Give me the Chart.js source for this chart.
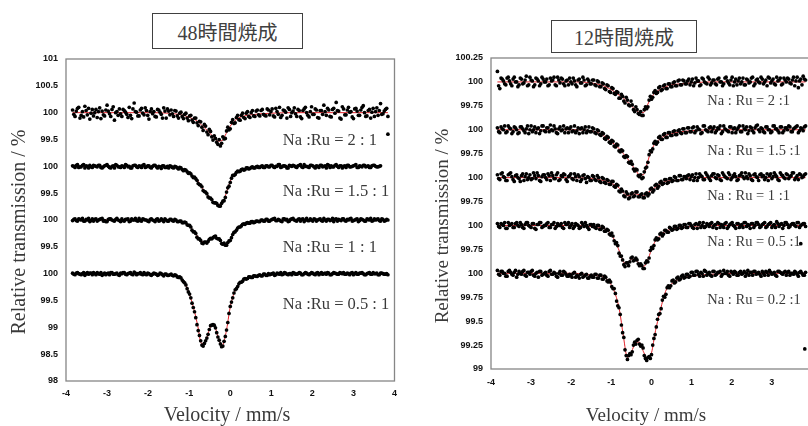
<!DOCTYPE html>
<html><head><meta charset="utf-8">
<script src="https://cdn.jsdelivr.net/npm/chart.js@4"></script>
<style>
html,body{margin:0;padding:0;background:#fff;overflow:hidden;width:808px;height:426px;}
#wrap{position:relative;width:808px;height:426px;overflow:hidden;background:#fff;}
.cv{position:absolute;top:0;}
.tbox{position:absolute;border:1px solid #404040;background:#fff;font-size:20px;font-family:"Liberation Serif","Noto Sans CJK JP",serif;color:#404040;display:flex;align-items:center;justify-content:center;box-sizing:border-box;}
</style></head>
<body><div id="wrap">
<div class="cv" style="left:0;width:404px;height:426px"><canvas id="c1" width="404" height="426"></canvas></div>
<div class="cv" style="left:404px;width:420px;height:426px"><canvas id="c2" width="420" height="426"></canvas></div>
<div class="tbox" id="t1" style="left:152px;top:13px;width:151px;height:36px"></div>
<div class="tbox" id="t2" style="left:551px;top:20px;width:146px;height:33px"></div>
</div>
<script>
// ---------- velocity channels (mm/s): even channels A, odd channels B ----------
const velocityA = [
-3.84,-3.78,-3.72,-3.66,-3.60,-3.54,-3.48,-3.42,-3.36,-3.30,
-3.24,-3.18,-3.12,-3.06,-3.00,-2.94,-2.88,-2.82,-2.76,-2.70,
-2.64,-2.58,-2.52,-2.46,-2.40,-2.34,-2.28,-2.22,-2.16,-2.10,
-2.04,-1.98,-1.92,-1.86,-1.80,-1.74,-1.68,-1.62,-1.56,-1.50,
-1.44,-1.38,-1.32,-1.26,-1.20,-1.14,-1.08,-1.02,-0.96,-0.90,
-0.84,-0.78,-0.72,-0.66,-0.60,-0.54,-0.48,-0.42,-0.36,-0.30,
-0.24,-0.18,-0.12,-0.06,0.00,0.06,0.12,0.18,0.24,0.30,
0.36,0.42,0.48,0.54,0.60,0.66,0.72,0.78,0.84,0.90,
0.96,1.02,1.08,1.14,1.20,1.26,1.32,1.38,1.44,1.50,
1.56,1.62,1.68,1.74,1.80,1.86,1.92,1.98,2.04,2.10,
2.16,2.22,2.28,2.34,2.40,2.46,2.52,2.58,2.64,2.70,
2.76,2.82,2.88,2.94,3.00,3.06,3.12,3.18,3.24,3.30,
3.36,3.42,3.48,3.54,3.60,3.66,3.72,3.78,3.84];
const velocityB = [
-3.81,-3.75,-3.69,-3.63,-3.57,-3.51,-3.45,-3.39,-3.33,-3.27,
-3.21,-3.15,-3.09,-3.03,-2.97,-2.91,-2.85,-2.79,-2.73,-2.67,
-2.61,-2.55,-2.49,-2.43,-2.37,-2.31,-2.25,-2.19,-2.13,-2.07,
-2.01,-1.95,-1.89,-1.83,-1.77,-1.71,-1.65,-1.59,-1.53,-1.47,
-1.41,-1.35,-1.29,-1.23,-1.17,-1.11,-1.05,-0.99,-0.93,-0.87,
-0.81,-0.75,-0.69,-0.63,-0.57,-0.51,-0.45,-0.39,-0.33,-0.27,
-0.21,-0.15,-0.09,-0.03,0.03,0.09,0.15,0.21,0.27,0.33,
0.39,0.45,0.51,0.57,0.63,0.69,0.75,0.81,0.87,0.93,
0.99,1.05,1.11,1.17,1.23,1.29,1.35,1.41,1.47,1.53,
1.59,1.65,1.71,1.77,1.83,1.89,1.95,2.01,2.07,2.13,
2.19,2.25,2.31,2.37,2.43,2.49,2.55,2.61,2.67,2.73,
2.79,2.85,2.91,2.97,3.03,3.09,3.15,3.21,3.27,3.33,
3.39,3.45,3.51,3.57,3.63,3.69,3.75,3.81];

const fitVelocity = [-3.84,-2.0,-1.5,-1.2,-1.05,-0.9,-0.8,-0.7,-0.6,-0.5,-0.4,-0.3,-0.2,-0.1,0.0,0.1,0.2,0.35,0.5,0.75,1.0,1.5,2.5,3.84];

// ---------- 48時間焼成 : relative transmission (%) ----------
const t48_ratio2A = [
100.05,99.93,100.08,99.90,100.02,100.12,99.96,99.88,100.06,100.00,
99.91,100.09,100.03,99.94,100.14,99.98,100.06,99.86,100.02,100.07,
99.93,100.04,99.97,100.10,99.89,100.18,100.01,99.94,100.08,99.96,
100.04,99.88,100.07,100.02,99.92,100.05,99.97,100.09,99.90,100.03,
100.05,99.93,100.03,99.90,100.01,99.89,99.99,99.85,99.95,99.82,
99.90,99.76,99.83,99.67,99.75,99.59,99.65,99.49,99.52,99.41,
99.38,99.55,99.52,99.73,99.70,99.87,99.81,99.95,99.86,99.99,
99.89,100.02,99.91,100.04,99.93,100.05,99.94,100.06,99.95,100.07,
99.96,100.07,99.92,100.02,100.10,99.95,100.04,99.90,100.06,100.00,
100.09,99.93,100.04,99.89,100.07,100.00,99.92,100.11,99.97,100.05,
99.90,100.04,100.14,99.95,100.05,99.92,100.08,100.19,100.03,99.88,
100.07,99.96,100.10,100.02,99.89,100.08,99.95,100.05,100.13,99.93,
100.04,99.90,100.08,100.02,99.95,100.17,99.98,100.06,99.93];
const t48_ratio2B = [
99.97,100.03,100.10,99.95,99.92,100.04,100.08,99.99,99.94,100.06,
100.02,99.89,99.96,100.05,100.03,99.93,100.11,100.00,99.95,99.98,
100.06,100.01,99.91,99.95,100.07,100.02,99.94,100.05,99.99,100.09,
99.95,100.02,99.98,99.93,100.06,100.01,99.90,100.03,100.07,99.96,
99.98,100.04,99.94,99.99,99.93,99.97,99.90,99.94,99.86,99.90,
99.81,99.84,99.73,99.78,99.64,99.69,99.55,99.57,99.45,99.50,
99.43,99.51,99.66,99.68,99.82,99.80,99.91,99.87,99.95,99.91,
99.99,99.93,100.00,99.94,100.03,99.96,100.04,99.97,99.94,100.05,
100.02,99.94,100.08,99.97,99.91,100.05,100.01,100.09,99.93,100.03,
99.98,100.06,99.92,100.04,100.10,99.95,100.02,99.97,100.07,99.91,
100.04,99.97,100.02,100.08,99.93,100.06,99.99,100.04,99.90,100.11,
99.96,100.05,100.01,99.92,100.07,100.03,99.95,100.10,100.00,99.94,
100.06,100.01,99.93,100.09,100.04,99.97,100.03,100.08];
const t48_ratio15A = [
100.01,99.98,100.03,99.99,100.02,99.97,100.00,100.02,99.98,100.01,
99.99,100.02,99.97,100.01,100.03,99.98,100.00,99.97,100.02,99.99,
100.01,99.98,100.02,100.00,99.97,100.02,99.99,100.01,99.98,100.03,
99.99,100.01,99.97,100.02,99.99,100.00,99.96,100.01,99.98,99.97,
100.00,99.97,99.99,99.95,99.97,99.92,99.93,99.87,99.86,99.79,
99.77,99.68,99.65,99.55,99.52,99.43,99.41,99.33,99.32,99.27,
99.26,99.35,99.42,99.60,99.70,99.83,99.85,99.91,99.91,99.95,
99.94,99.97,99.96,99.99,99.97,100.00,99.98,100.01,99.98,100.01,
99.99,100.02,99.98,100.00,100.03,99.99,100.01,99.97,100.02,100.00,
100.01,99.98,100.02,99.99,100.03,100.00,99.98,100.02,99.99,100.01,
99.98,100.02,100.00,99.97,100.02,100.01,99.99,100.03,99.98,100.01,
100.00,99.98,100.02,99.99,100.01,100.03,99.98,100.00,100.02,99.99,
100.01,99.98,100.02,100.00,99.99,100.01];
const t48_ratio15B = [
100.00,100.02,99.98,99.99,100.03,100.01,99.97,99.99,100.02,100.00,
100.02,99.98,99.99,100.02,100.00,99.97,100.01,100.03,99.99,99.98,
100.00,100.03,99.99,99.97,100.01,100.02,99.98,100.00,100.02,99.98,
100.01,99.98,100.00,100.02,99.97,99.99,100.01,99.98,100.00,100.01,
99.98,100.00,99.97,99.98,99.94,99.94,99.90,99.88,99.82,99.80,
99.74,99.66,99.62,99.53,99.49,99.41,99.38,99.32,99.31,99.26,
99.31,99.36,99.52,99.63,99.78,99.83,99.89,99.90,99.94,99.93,
99.97,99.95,99.98,99.97,99.99,99.98,100.00,99.98,100.01,99.99,
100.02,99.99,100.00,100.03,99.98,100.01,100.00,99.97,100.01,100.02,
99.99,100.01,100.03,99.98,100.00,99.99,100.02,100.01,99.97,100.00,
100.02,99.99,100.01,100.03,99.98,99.99,100.02,100.00,100.01,99.97,
100.01,100.02,99.99,100.00,100.02,99.98,100.01,99.99,100.02,100.00,
99.98,100.01,100.02,99.99,100.00];
const t48_ratio1A = [
99.99,100.02,99.98,100.01,100.03,99.98,100.00,99.97,100.02,100.01,
99.98,100.01,100.03,99.99,99.97,100.02,100.00,99.98,100.03,99.99,
100.02,99.98,100.01,99.97,100.02,100.00,99.99,100.03,99.98,100.01,
100.00,99.97,100.02,99.99,100.01,99.98,100.02,99.97,100.00,99.98,
100.01,99.98,100.00,99.97,99.98,99.95,99.95,99.90,99.87,99.78,
99.75,99.65,99.62,99.56,99.59,99.60,99.66,99.67,99.70,99.65,
99.62,99.55,99.53,99.58,99.62,99.73,99.78,99.85,99.87,99.92,
99.92,99.95,99.94,99.97,99.96,99.98,99.97,100.00,99.98,100.01,
99.98,100.01,100.03,99.99,100.00,99.97,100.02,100.01,99.98,100.02,
100.00,99.98,100.02,100.01,99.97,100.03,99.99,100.00,100.02,99.98,
100.01,99.99,100.03,99.98,100.01,100.00,99.97,100.02,100.01,99.99,
100.02,99.98,100.00,100.03,99.99,100.01,99.97,100.02,100.00,99.98,
100.01,100.03,99.99,100.00,100.02,99.98,100.01,99.99,100.00];
const t48_ratio1B = [
100.01,99.99,100.02,100.00,99.98,100.01,100.03,99.99,99.98,100.02,
100.00,100.02,99.98,99.97,100.01,100.02,99.99,100.01,100.00,99.97,
99.99,100.01,100.02,99.98,100.00,100.03,99.98,99.99,100.02,100.00,
99.98,100.01,100.00,99.97,100.02,99.99,100.00,100.02,99.98,100.01,
99.99,100.01,99.97,99.98,99.95,99.96,99.91,99.90,99.81,99.78,
99.68,99.65,99.57,99.59,99.57,99.64,99.65,99.69,99.66,99.65,
99.56,99.57,99.53,99.61,99.67,99.77,99.81,99.87,99.89,99.93,
99.94,99.94,99.97,99.95,99.98,99.97,100.00,99.98,100.01,99.98,
100.00,100.02,99.99,100.01,99.98,100.02,100.00,99.97,100.01,100.03,
99.99,100.01,99.98,100.02,100.00,99.99,100.02,99.98,100.01,100.00,
100.02,99.98,100.00,100.01,99.99,100.03,100.01,99.98,100.00,100.02,
99.99,100.01,100.02,99.98,100.00,100.02,99.99,100.01,99.98,100.02,
100.00,99.98,100.02,100.01,99.99,100.02,99.98,100.01];
const t48_ratio05A = [
100.01,99.98,100.02,99.99,100.00,99.97,100.02,100.01,99.98,100.00,
100.02,99.99,99.97,100.01,100.00,99.98,100.02,99.99,100.01,99.97,
100.00,100.02,99.98,100.01,99.99,100.03,99.98,100.00,99.99,100.02,
99.98,100.00,99.97,100.01,99.99,99.98,100.00,99.96,99.99,99.97,
99.99,99.96,99.97,99.93,99.92,99.85,99.79,99.66,99.55,99.37,
99.18,98.94,98.75,98.65,98.75,98.87,99.03,99.05,98.99,98.82,
98.69,98.65,98.83,99.09,99.39,99.55,99.70,99.76,99.84,99.86,
99.91,99.91,99.94,99.93,99.96,99.95,99.98,99.96,99.99,99.97,
99.98,100.00,99.97,100.01,99.99,99.98,100.02,99.99,100.00,99.98,
100.01,99.99,100.02,99.98,100.00,100.01,99.98,100.02,99.99,100.01,
99.98,100.02,100.00,99.99,100.01,99.98,100.02,100.00,99.99,100.01,
100.02,99.99,100.00,100.01,99.98,100.02,99.99,100.01,100.00,99.98,
100.01,99.99,100.02,100.00,99.98,100.01,100.00,99.99,99.98];
const t48_ratio05B = [
99.99,100.01,100.00,99.98,100.02,100.00,99.99,100.01,100.02,99.98,
100.00,100.02,99.99,99.98,100.01,100.02,99.99,100.00,99.98,100.01,
100.02,99.99,100.00,100.02,99.98,100.01,100.00,100.02,99.98,99.99,
100.01,99.98,99.99,100.00,99.97,100.01,99.98,99.99,99.97,99.98,
99.97,99.98,99.94,99.94,99.88,99.83,99.72,99.62,99.45,99.29,
99.05,98.85,98.67,98.70,98.80,98.96,99.04,99.04,98.90,98.76,
98.64,98.74,98.95,99.26,99.47,99.64,99.72,99.81,99.84,99.90,
99.90,99.94,99.93,99.96,99.95,99.97,99.96,99.99,99.97,100.00,
99.99,100.01,99.98,100.00,100.02,99.99,100.01,99.98,100.00,100.02,
99.99,100.00,100.01,99.98,100.02,99.99,100.00,100.01,99.98,100.02,
100.00,99.99,100.01,100.02,99.98,100.00,100.01,99.99,100.02,100.00,
99.99,100.01,99.98,100.02,100.00,99.99,100.01,100.02,99.98,100.00,
100.02,99.99,100.00,100.01,99.98,100.01,99.99,100.00];
const strayVelocity48 = [3.84];
const strayValue48 = [99.60];   // stray point beside "Na :Ru = 2 : 1"

const fit48_ratio2  = [100.00,100.00,99.99,99.96,99.93,99.88,99.84,99.77,99.70,99.62,99.54,99.47,99.48,99.61,99.75,99.84,99.90,99.94,99.96,99.98,99.99,100.00,100.00,100.00];
const fit48_ratio15 = [100.00,100.00,99.99,99.96,99.90,99.81,99.74,99.62,99.51,99.42,99.34,99.29,99.31,99.49,99.72,99.85,99.90,99.95,99.97,99.99,100.00,100.00,100.00];
const fit48_ratio1  = [100.00,100.00,100.00,99.97,99.93,99.80,99.70,99.61,99.58,99.64,99.68,99.66,99.57,99.55,99.64,99.77,99.86,99.93,99.96,99.98,99.99,100.00,100.00,100.00];
const fit48_ratio05 = [100.00,100.00,99.98,99.91,99.73,99.38,99.06,98.70,98.74,98.98,99.05,98.83,98.66,98.91,99.38,99.65,99.79,99.89,99.93,99.97,99.98,99.99,100.00,100.00];

// ---------- 12時間焼成 : relative transmission (%) ----------
const t12_ratio2A = [
100.11,99.93,100.03,99.98,100.04,100.01,99.96,100.05,100.00,99.97,
100.03,99.99,100.06,99.97,100.02,99.95,100.04,100.01,99.98,100.03,
100.00,99.96,100.04,100.02,99.97,100.05,99.99,100.03,99.96,100.02,
100.04,99.98,100.01,99.95,100.03,99.99,100.02,99.97,100.01,99.98,
100.02,99.96,100.00,99.95,99.98,99.92,99.96,99.89,99.93,99.87,
99.89,99.83,99.85,99.78,99.81,99.75,99.76,99.69,99.71,99.66,
99.65,99.71,99.72,99.81,99.82,99.89,99.88,99.94,99.91,99.96,
99.93,99.98,99.95,99.99,99.96,100.01,99.97,100.02,99.98,100.01,
99.97,100.03,99.99,100.01,99.96,100.04,100.00,99.98,100.03,99.99,
100.02,99.97,100.04,100.00,99.98,100.05,99.99,100.02,99.96,100.03,
100.01,99.98,100.04,99.97,100.02,100.00,100.05,99.98,100.03,99.99,
100.03,100.00,99.96,100.04,100.01,99.98,100.05,100.02,99.97,100.04,
100.00,100.03,99.98,100.05,100.01,99.94,100.03,100.06,100.02];
const t12_ratio2B = [
99.96,100.04,100.01,99.97,100.05,99.98,100.03,100.00,99.95,100.04,
99.98,100.02,99.96,100.05,100.01,99.97,100.03,99.96,100.05,100.00,
100.03,99.97,100.01,100.05,99.96,100.02,100.04,99.98,100.01,99.97,
100.00,100.04,99.97,100.02,99.99,100.05,99.96,100.03,99.98,100.02,
99.97,100.01,99.95,99.99,99.93,99.97,99.90,99.94,99.88,99.90,
99.83,99.87,99.80,99.84,99.76,99.80,99.71,99.74,99.67,99.69,
99.65,99.74,99.74,99.85,99.84,99.91,99.89,99.95,99.92,99.97,
99.93,99.98,99.95,100.00,99.96,100.02,99.97,100.01,99.98,100.03,
100.00,99.96,100.04,100.01,99.97,100.03,99.99,100.05,99.97,100.02,
99.98,100.03,100.00,99.96,100.04,100.01,99.97,100.05,100.00,99.97,
100.04,100.00,99.97,100.03,99.99,100.04,99.96,100.02,100.00,100.05,
99.98,100.02,100.05,99.99,100.03,99.97,100.01,100.04,99.98,100.02,
100.04,99.99,100.02,99.96,100.05,100.01,99.97,100.03];
const t12_ratio15A = [
100.02,99.97,100.01,100.04,99.98,100.02,99.96,100.03,100.00,99.97,
100.03,99.99,100.01,99.96,100.04,100.00,99.97,100.02,99.99,100.04,
99.98,100.02,100.05,99.99,100.01,99.96,100.03,100.00,99.97,100.02,
100.01,99.98,100.04,99.99,99.96,100.02,100.00,99.97,100.03,99.98,
100.01,99.96,99.99,99.94,99.96,99.90,99.92,99.86,99.88,99.82,
99.84,99.77,99.78,99.71,99.72,99.65,99.64,99.57,99.58,99.51,
99.49,99.56,99.61,99.74,99.77,99.86,99.85,99.92,99.90,99.95,
99.92,99.97,99.94,99.98,99.95,99.99,99.97,100.01,99.97,100.02,
99.98,100.02,99.97,100.03,100.00,99.97,100.04,99.99,100.02,99.98,
100.03,99.99,100.01,99.96,100.04,100.00,99.98,100.03,100.01,99.97,
100.02,99.98,100.04,100.00,99.96,100.03,99.99,100.02,100.05,99.98,
100.01,99.97,100.03,100.00,99.98,100.04,100.01,99.97,100.03,99.99,
100.02,100.04,99.98,100.01,100.03,99.97,100.02,99.99,100.04];
const t12_ratio15B = [
99.98,100.03,100.00,99.97,100.04,100.01,99.98,100.02,99.96,100.03,
100.01,99.97,100.04,100.00,99.98,100.03,100.01,99.96,100.04,99.99,
100.02,99.98,100.00,100.04,99.97,100.01,99.99,100.04,100.01,99.97,
100.03,99.99,99.97,100.02,100.01,99.97,100.03,99.99,99.98,100.02,
99.97,100.00,99.95,99.97,99.91,99.93,99.87,99.89,99.83,99.85,
99.78,99.79,99.72,99.73,99.66,99.67,99.59,99.59,99.52,99.53,
99.50,99.60,99.66,99.78,99.80,99.88,99.87,99.93,99.90,99.96,
99.92,99.97,99.94,99.99,99.95,100.00,99.96,100.01,99.97,100.02,
99.98,100.03,99.99,100.01,99.96,100.04,100.00,99.98,100.03,100.01,
99.97,100.02,100.04,99.98,100.01,99.99,100.03,99.97,100.02,100.00,
100.04,99.98,100.01,100.03,99.99,100.02,99.97,100.04,100.00,100.02,
99.98,100.03,100.00,99.97,100.04,100.01,99.99,100.03,99.97,100.02,
100.00,100.03,99.98,100.02,100.04,99.99,100.01,100.03];
const t12_ratio1A = [
100.03,99.98,100.05,100.00,99.97,100.04,100.01,99.96,100.03,99.99,
100.02,99.97,100.04,100.00,99.98,100.05,99.99,100.02,99.96,100.03,
100.00,100.04,99.97,100.02,99.99,100.05,99.98,100.01,100.03,99.96,
100.02,99.99,100.04,99.97,100.01,99.98,100.03,99.95,100.00,99.97,
100.01,99.97,100.00,99.95,99.99,99.94,99.97,99.93,99.96,99.90,
99.92,99.85,99.86,99.80,99.83,99.79,99.84,99.81,99.85,99.80,
99.83,99.79,99.84,99.83,99.89,99.87,99.93,99.91,99.96,99.94,
99.98,99.95,99.99,99.97,100.00,99.97,100.02,99.98,100.01,100.02,
99.98,100.03,100.00,99.97,100.04,100.01,99.98,100.03,99.99,100.02,
100.04,99.99,100.02,99.97,100.03,100.00,100.05,99.98,100.02,100.01,
99.98,100.03,100.01,100.05,99.99,100.02,99.97,100.04,100.00,100.03,
100.01,99.98,100.04,100.02,99.99,100.05,100.01,99.97,100.03,100.00,
100.04,99.99,100.02,100.05,100.00,99.98,100.03,100.01,100.04];
const t12_ratio1B = [
99.99,100.04,100.01,99.97,100.03,100.05,99.98,100.02,100.00,99.96,
100.04,100.01,99.98,100.03,99.99,100.02,100.05,99.97,100.01,100.03,
99.98,100.02,100.05,99.99,100.03,99.97,100.02,100.04,99.98,100.01,
100.04,99.98,100.01,100.03,99.96,100.02,99.99,100.01,99.97,100.02,
99.98,100.02,99.96,100.00,99.95,99.98,99.93,99.96,99.91,99.93,
99.86,99.88,99.81,99.85,99.78,99.83,99.80,99.85,99.80,99.82,
99.79,99.83,99.81,99.88,99.85,99.92,99.89,99.95,99.93,99.98,
99.94,99.99,99.96,100.01,99.97,100.02,99.98,100.01,99.99,100.03,
100.01,99.97,100.04,100.00,100.02,99.98,100.05,100.01,99.97,100.04,
100.00,100.03,99.98,100.05,100.01,99.99,100.03,100.00,100.04,99.97,
100.02,100.05,99.99,100.01,100.04,99.98,100.03,100.01,99.97,100.04,
100.02,100.00,99.97,100.04,100.01,100.03,99.98,100.05,100.02,99.99,
100.03,100.01,100.05,99.98,100.02,100.04,100.00,100.03];
const t12_ratio05A = [
100.02,99.98,100.01,100.03,99.97,100.00,100.02,99.98,100.03,99.99,
100.01,99.97,100.03,100.00,99.98,100.02,99.96,100.01,100.03,99.99,
100.00,100.03,99.98,100.01,99.97,100.02,100.00,99.98,100.03,100.01,
99.98,100.02,99.99,100.01,99.97,100.03,99.99,100.00,99.96,100.01,
100.01,99.97,100.00,99.96,99.98,99.94,99.95,99.90,99.89,99.81,
99.79,99.68,99.64,99.57,99.61,99.62,99.67,99.64,99.64,99.58,
99.58,99.55,99.63,99.66,99.77,99.79,99.87,99.86,99.92,99.91,
99.95,99.93,99.97,99.96,99.99,99.97,100.00,99.98,100.01,99.98,
100.02,99.98,100.01,99.97,100.03,100.00,99.98,100.02,99.99,100.03,
100.00,99.97,100.02,100.01,99.98,100.03,99.99,100.02,100.00,99.97,
100.02,100.00,99.98,100.03,100.01,99.97,100.02,100.00,100.03,99.98,
100.01,100.03,99.99,100.02,99.98,100.01,100.04,99.99,100.02,100.00,
100.03,99.98,100.01,100.02,99.99,100.03,100.00,100.02,99.99];
const t12_ratio05B = [
99.99,100.02,100.00,99.97,100.03,100.01,99.98,100.02,100.00,100.03,
99.98,100.01,100.03,99.99,100.02,99.97,100.01,100.03,99.98,100.00,
100.02,99.98,100.01,100.03,99.99,100.00,100.02,99.97,100.01,100.03,
100.00,99.97,100.02,100.00,99.98,100.01,100.03,99.98,100.01,99.99,
99.98,100.00,99.96,99.99,99.94,99.96,99.91,99.92,99.84,99.82,
99.71,99.68,99.59,99.61,99.58,99.66,99.63,99.66,99.60,99.60,
99.55,99.61,99.62,99.74,99.76,99.85,99.85,99.91,99.89,99.95,
99.93,99.98,99.95,99.99,99.96,100.00,99.97,100.01,99.98,100.02,
100.00,99.97,100.02,100.01,99.98,100.03,99.99,100.01,100.02,99.98,
100.01,100.03,99.98,100.00,100.02,99.97,100.01,100.03,99.99,100.02,
99.98,100.01,100.03,99.99,100.00,100.02,99.98,100.03,100.01,99.99,
100.02,99.98,100.01,100.03,100.00,99.98,100.02,100.01,99.97,100.03,
100.01,99.99,100.02,100.00,100.03,99.98,100.01,100.02];
const t12_ratio02A = [
100.03,99.98,100.02,100.00,99.97,100.03,99.99,100.01,99.96,100.02,
99.99,100.03,99.97,100.01,100.02,99.98,100.00,99.96,100.02,99.99,
100.01,99.97,100.03,99.99,100.00,99.96,100.02,99.98,100.01,99.97,
99.99,99.96,100.01,99.98,99.95,100.00,99.97,99.99,99.95,99.98,
99.96,99.99,99.95,99.98,99.94,99.96,99.91,99.91,99.84,99.79,
99.66,99.57,99.38,99.20,99.10,99.16,99.18,99.28,99.30,99.26,
99.25,99.14,99.09,99.13,99.15,99.32,99.44,99.57,99.63,99.76,
99.78,99.87,99.87,99.93,99.91,99.96,99.94,99.98,99.96,99.99,
99.97,100.01,99.98,100.02,99.97,100.00,100.03,99.98,100.01,99.97,
100.02,99.99,100.01,99.97,100.03,100.00,99.98,100.02,99.99,100.01,
99.98,100.02,100.00,99.97,100.03,100.01,99.98,100.02,100.00,99.99,
100.02,99.98,100.01,100.03,99.99,100.01,99.97,100.02,100.00,100.01,
99.98,100.02,100.00,99.99,100.01,99.97,100.02,99.98,100.01];
const t12_ratio02B = [
99.99,100.02,100.00,99.97,100.02,100.01,99.98,100.03,99.99,100.00,
100.02,99.98,100.01,99.99,100.03,99.97,100.01,100.02,99.98,100.00,
99.98,100.02,99.99,100.01,99.97,100.00,99.98,100.02,99.99,99.97,
99.98,100.00,99.96,99.97,99.99,99.96,99.98,99.95,99.97,99.96,
99.99,99.95,99.98,99.94,99.97,99.92,99.93,99.86,99.84,99.71,
99.64,99.46,99.33,99.14,99.14,99.15,99.25,99.26,99.31,99.24,
99.22,99.11,99.12,99.11,99.25,99.36,99.52,99.58,99.72,99.75,
99.85,99.85,99.92,99.90,99.95,99.93,99.97,99.95,99.99,99.96,
100.01,99.98,100.02,99.99,100.01,99.97,100.02,100.00,99.98,100.02,
99.98,100.01,100.02,99.99,100.00,100.02,99.97,100.01,100.02,99.98,
100.01,99.99,100.02,100.00,99.98,100.01,100.02,99.99,100.01,99.97,
100.00,100.02,99.98,100.01,100.00,99.98,100.02,100.01,99.99,100.02,
100.01,99.98,100.00,100.02,99.99,100.01,100.00,99.98];
const strayVelocity12_05 = [3.72];
const strayValue12_05 = [99.81];
const strayVelocity12_02 = [3.82];
const strayValue12_02 = [99.21];

const fit12_ratio2  = [100.00,100.00,99.99,99.96,99.93,99.89,99.86,99.83,99.79,99.75,99.71,99.68,99.68,99.76,99.84,99.89,99.92,99.95,99.97,99.98,99.99,100.00,100.00,100.00];
const fit12_ratio15 = [100.00,100.00,99.99,99.94,99.89,99.84,99.80,99.75,99.70,99.64,99.58,99.53,99.53,99.66,99.79,99.86,99.90,99.94,99.96,99.98,99.99,100.00,100.00,100.00];
const fit12_ratio1  = [100.00,100.00,99.99,99.97,99.95,99.92,99.89,99.84,99.81,99.82,99.83,99.82,99.81,99.84,99.87,99.90,99.93,99.96,99.97,99.98,100.00,100.00,100.00,100.00];
const fit12_ratio05 = [100.00,100.00,99.99,99.97,99.93,99.83,99.73,99.62,99.60,99.65,99.64,99.60,99.57,99.63,99.75,99.84,99.89,99.94,99.96,99.98,99.99,100.00,100.00,100.00];
const fit12_ratio02 = [100.00,100.00,99.98,99.96,99.91,99.78,99.62,99.34,99.12,99.18,99.27,99.28,99.18,99.11,99.17,99.40,99.58,99.81,99.89,99.95,99.97,99.99,100.00,100.00];

// ---------- tick labels & texts ----------
const xTickLabels = ['-4','-3','-2','-1','0','1','2','3','4'];
const yTickLabels48 = ['98','98.5','99','99.5','100','99.5','100','99.5','100','99.5','100','100.5','101'];
const yTickLabels12 = ['99','99.25','99.5','99.75','100','99.75','100','99.75','100','99.75','100','99.75','100','100.25'];
const panelTitle48 = '48時間焼成';
const panelTitle12 = '12時間焼成';
const labels48 = ['Na :Ru = 2 : 1','Na :Ru = 1.5 : 1','Na :Ru = 1 : 1','Na :Ru = 0.5 : 1'];
const labels12 = ['Na : Ru = 2 :1','Na : Ru = 1.5 :1','Na : Ru = 1 :1','Na : Ru = 0.5 :1','Na : Ru = 0.2 :1'];
const yAxisTitle = 'Relative transmission / %';
const xAxisTitle = 'Velocity / mm/s';

document.getElementById('t1').textContent = panelTitle48;
document.getElementById('t2').textContent = panelTitle12;

// ---------- helpers ----------
function toPoints(xs, ys, shift) {
  const out = [];
  for (let i = 0; i < ys.length; i++) out.push({x: xs[i], y: ys[i] + shift});
  return out;
}
function dotSet(valsA, valsB, shift, r, sv, st) {
  let d = toPoints(velocityA, valsA, shift).concat(toPoints(velocityB, valsB, shift));
  if (sv) d = d.concat(toPoints(sv, st, shift));
  return {type:'scatter', data:d, showLine:false, pointRadius:r, pointHoverRadius:r,
          pointBackgroundColor:'#000', pointBorderWidth:0, order:1};
}
function fitSet(vals, shift) {
  return {type:'scatter', data:toPoints(fitVelocity, vals, shift), showLine:true, pointRadius:0,
          borderColor:'#e3242b', borderWidth:1, cubicInterpolationMode:'monotone', fill:false, order:2};
}

const decor = {
  id: 'decor',
  beforeDatasetsDraw(chart) {
    const ctx = chart.ctx, a = chart.chartArea;
    ctx.save();
    ctx.strokeStyle = '#868686';
    ctx.lineWidth = 1.3;
    ctx.strokeRect(a.left, a.top, a.right - a.left, a.bottom - a.top);
    ctx.restore();
  },
  afterDraw(chart, args, o) {
    const ctx = chart.ctx, xs = chart.scales.x, ys = chart.scales.y;
    ctx.save();
    ctx.fillStyle = '#3a3a3a';
    ctx.textBaseline = 'middle';
    ctx.textAlign = 'left';
    ctx.font = o.noteFont;
    for (let i = 0; i < o.notes.length; i++) {
      ctx.fillText(o.notes[i], xs.getPixelForValue(o.noteX), ys.getPixelForValue(o.noteY[i]));
    }
    ctx.font = o.titleFont;
    ctx.textAlign = 'center';
    ctx.fillText(o.xTitle, o.xTitleAt[0], o.xTitleAt[1]);
    ctx.translate(o.yTitleAt[0], o.yTitleAt[1]);
    ctx.rotate(-Math.PI / 2);
    ctx.fillText(o.yTitle, 0, 0);
    ctx.restore();
  }
};

function makeChart(id, cfg) {
  const tickFont = {family:'"Liberation Sans", Arial, sans-serif', weight:'bold', size:9};
  return new Chart(document.getElementById(id), {
    type: 'scatter',
    data: {datasets: cfg.datasets},
    options: {
      responsive:false, animation:false, events:[],
      layout:{padding:cfg.padding},
      plugins:{legend:{display:false}, tooltip:{enabled:false}, decor:cfg.decor},
      scales:{
        x:{type:'linear', min:-4, max:4,
           grid:{display:false, drawTicks:false}, border:{display:false},
           ticks:{stepSize:1, autoSkip:false, font:tickFont, color:'#111', padding:cfg.xPad,
                  callback:(v, i) => xTickLabels[i]},
           afterFit:(s) => { s.height = cfg.xHeight; }},
        y:{type:'linear', min:cfg.yMin, max:cfg.yMax,
           grid:{display:false, drawTicks:false}, border:{display:false},
           ticks:{stepSize:cfg.yStep, autoSkip:false, font:tickFont, color:'#111', padding:8,
                  callback:(v, i) => cfg.yLabels[i]},
           afterFit:(s) => { s.width = cfg.yWidth; }}
      }
    },
    plugins:[decor]
  });
}

// stacking shifts (display only)
const shift48 = {r2:3, r15:2, r1:1, r05:0};
const shift12 = {r2:2, r15:1.5, r1:1, r05:0.5, r02:0};
const dotR = 1.85;

makeChart('c1', {
  padding:{left:0, top:59, right:6, bottom:0},
  xHeight:45, yWidth:66, xPad:7,
  yMin:98, yMax:104, yStep:0.5, yLabels:yTickLabels48,
  datasets:[
    dotSet(t48_ratio2A, t48_ratio2B, shift48.r2, dotR, strayVelocity48, strayValue48),
    dotSet(t48_ratio15A, t48_ratio15B, shift48.r15, dotR),
    dotSet(t48_ratio1A, t48_ratio1B, shift48.r1, dotR),
    dotSet(t48_ratio05A, t48_ratio05B, shift48.r05, dotR),
    fitSet(fit48_ratio2, shift48.r2),
    fitSet(fit48_ratio15, shift48.r15),
    fitSet(fit48_ratio1, shift48.r1),
    fitSet(fit48_ratio05, shift48.r05)
  ],
  decor:{
    notes:labels48, noteX:1.28, noteY:[102.47, 101.52, 100.48, 99.42],
    noteFont:'16.5px "Liberation Serif", "Times New Roman", serif',
    titleFont:'20px "Liberation Serif", "Times New Roman", serif',
    xTitle:xAxisTitle, xTitleAt:[227, 416],
    yTitle:yAxisTitle, yTitleAt:[20, 232]
  }
});

makeChart('c2', {
  padding:{left:0, top:58, right:12, bottom:0},
  xHeight:57, yWidth:87, xPad:8,
  yMin:99, yMax:102.25, yStep:0.25, yLabels:yTickLabels12,
  datasets:[
    dotSet(t12_ratio2A, t12_ratio2B, shift12.r2, dotR),
    dotSet(t12_ratio15A, t12_ratio15B, shift12.r15, dotR),
    dotSet(t12_ratio1A, t12_ratio1B, shift12.r1, dotR),
    dotSet(t12_ratio05A, t12_ratio05B, shift12.r05, dotR, strayVelocity12_05, strayValue12_05),
    dotSet(t12_ratio02A, t12_ratio02B, shift12.r02, dotR, strayVelocity12_02, strayValue12_02),
    fitSet(fit12_ratio2, shift12.r2),
    fitSet(fit12_ratio15, shift12.r15),
    fitSet(fit12_ratio1, shift12.r1),
    fitSet(fit12_ratio05, shift12.r05),
    fitSet(fit12_ratio02, shift12.r02)
  ],
  decor:{
    notes:labels12, noteX:1.39, noteY:[101.80, 101.28, 100.81, 100.32, 99.72],
    noteFont:'14.5px "Liberation Serif", "Times New Roman", serif',
    titleFont:'19px "Liberation Serif", "Times New Roman", serif',
    xTitle:xAxisTitle, xTitleAt:[242, 416],
    yTitle:yAxisTitle, yTitleAt:[39, 226]
  }
});
</script>
</body></html>
